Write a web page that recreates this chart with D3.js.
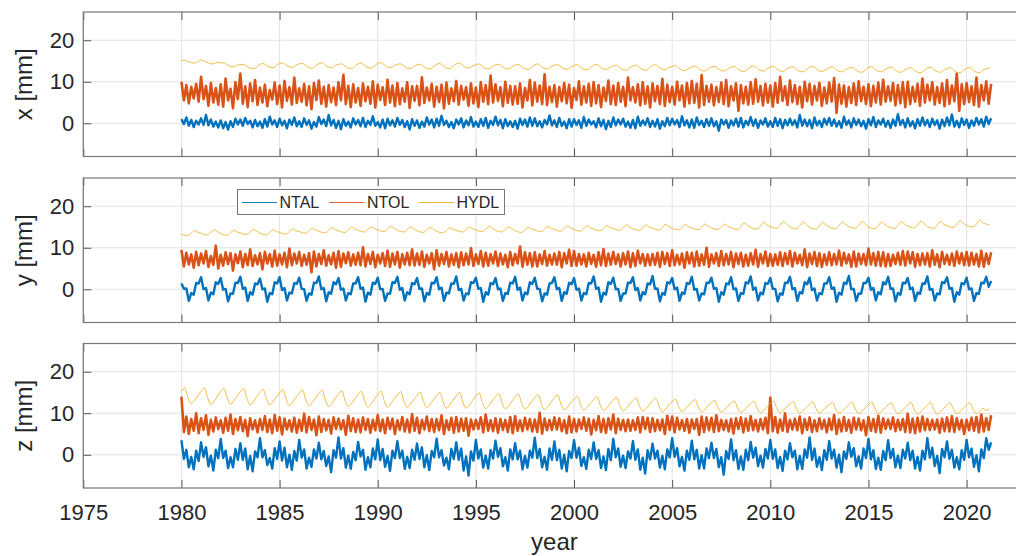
<!DOCTYPE html>
<html>
<head>
<meta charset="utf-8">
<script src="https://cdn.jsdelivr.net/npm/d3@7"></script>
<style>
body { margin: 0; background: #fff; }
text { font-family: "Liberation Sans", Arial, Helvetica, sans-serif; fill: #262626; }
</style>
</head>
<body>
<script>
// all values in tenths of mm
// noisy series (NTAL, NTOL): 8 samples per year from 1980.0
// HYDL: 6 samples per year from 1980.0
var startYear = 1980;
var seriesNames = ["NTAL", "NTOL", "HYDL"];
var seriesColors = ["#0072BD", "#D95319", "#EDB120"];
var panelLabels = ["x [mm]", "y [mm]", "z [mm]"];
var xTicks = [1975, 1980, 1985, 1990, 1995, 2000, 2005, 2010, 2015, 2020];
var yTicks = [0, 10, 20];

var ntalX = [
10,-2,14,-6,8,-9,6,-3, 12,-4,20,-5,9,-8,4,-10, 7,-12,3,-15,5,-9,11,-3, 9,-6,13,-2,6,-10,8,-7,
4,-11,10,-8,16,-3,7,-9, 11,-5,6,-12,9,-4,14,-7, 5,-9,12,-4,7,-13,3,-8, 15,-2,9,-7,20,-5,8,-11,
6,-14,10,-6,4,-10,12,-3, 8,-7,13,-9,6,-4,17,-6, 3,-10,9,-12,11,-5,7,-8, 13,-4,8,-9,5,-15,10,-6,
7,-11,4,-8,14,-3,9,-10, 11,-6,18,-4,6,-9,3,-12, 9,-3,12,-10,7,-5,15,-8, 4,-9,10,-6,13,-11,6,-4,
16,-5,8,-12,10,-7,5,-9, 6,-13,11,-4,9,-8,14,-6, 12,-7,5,-10,8,-3,19,-5, 7,-9,13,-6,4,-12,10,-8,
10,-4,7,-11,15,-6,9,-3, 5,-10,12,-7,8,-14,6,-9, 14,-5,9,-3,11,-8,4,-11, 8,-12,16,-6,7,-4,12,-9,
6,-8,10,-13,5,-7,13,-5, 11,-3,8,-9,17,-5,7,-10, 9,-11,14,-4,6,-9,10,-6, 12,-7,5,-18,9,-3,8,-11,
7,-5,11,-8,13,-10,6,-4, 15,-6,9,-11,7,-3,12,-8, 5,-9,13,-6,10,-12,8,-5, 11,-4,7,-10,20,-6,9,-7,
8,-12,14,-5,6,-9,11,-3, 13,-6,9,-8,5,-11,16,-4, 7,-10,12,-4,9,-7,6,-13, 10,-5,15,-9,7,-3,11,-8,
6,-11,9,-6,22,-4,8,-10, 12,-7,5,-12,10,-6,14,-5, 8,-9,11,-4,7,-13,9,-7, 14,-5,21,-8,6,-10,12,-4,
9,-11,7,-6,13,-3,10,-8, 16,-2,12
];
var ntolX = [
100,55,92,48,88,60,95,52, 112,58,90,42,97,50,85,45, 94,40,108,55,83,36,99,58, 120,47,89,39,96,53,104,44,
86,50,93,41,80,57,98,46, 91,38,102,54,87,45,110,49, 84,52,95,43,89,34,97,56, 103,47,88,40,92,51,86,44,
99,55,117,46,90,39,94,50, 85,42,96,53,88,47,101,38, 93,56,87,44,105,50,91,41, 97,46,84,52,99,37,89,54,
90,43,111,49,86,55,95,40, 88,51,93,36,98,47,84,53, 102,45,90,57,87,42,96,48, 86,39,99,52,92,46,115,50,
94,54,87,41,100,49,90,45, 89,47,96,38,85,55,104,43, 98,52,91,46,118,44,88,51, 92,40,87,53,97,48,93,37,
85,56,101,45,89,50,95,42, 99,48,92,39,86,54,103,46, 91,44,97,52,88,41,110,55, 87,50,94,43,99,47,89,38,
96,53,90,46,107,42,93,51, 88,45,100,55,91,40,97,48, 102,49,95,38,116,44,90,52, 93,43,87,51,98,46,104,41,
89,55,96,30,92,48,88,45, 99,47,106,52,90,43,95,50, 91,40,97,49,112,54,89,44, 103,51,92,46,88,38,100,53,
95,45,90,55,97,42,86,48, 98,52,109,25,93,47,91,40, 87,49,96,44,101,53,88,46, 94,41,90,50,98,45,105,52,
89,54,97,43,92,48,99,39, 100,46,88,52,95,42,108,50, 93,55,99,45,87,49,96,41, 104,47,91,53,120,30,94,46,
97,51,89,44,110,40,92,55, 101,47,95
];
var hydlX = [
150,152,149,146,145,149, 153,150,146,143,144,147, 145,146,141,137,136,140, 141,142,137,133,131,135,
142,144,139,135,134,139, 144,145,140,136,135,140, 143,144,139,134,133,138, 144,146,140,135,134,139,
142,143,138,133,132,137, 143,145,139,134,133,138, 144,146,141,135,134,139, 142,143,138,133,132,137,
141,142,137,132,131,136, 142,144,138,133,132,137, 143,145,139,134,133,138, 141,143,137,132,131,136,
141,142,137,132,131,136, 140,142,136,131,130,135, 141,143,137,132,131,136, 140,141,136,131,130,135,
139,141,135,130,129,134, 140,142,136,131,130,135, 138,140,134,129,128,133, 138,140,134,129,128,133,
139,141,135,130,129,134, 137,139,133,128,127,132, 136,138,132,127,126,131, 136,137,132,127,126,131,
135,137,131,126,125,130, 136,138,132,127,126,131, 135,137,131,126,125,130, 134,136,130,125,124,129,
135,137,131,126,125,130, 134,136,130,125,124,129, 133,135,129,124,123,128, 134,136,130,125,124,129,
133,135,129,124,123,128, 132,134,128,123,122,127, 133,135,129,124,123,128, 132,134,128,123,122,127,
132,134,128,123,122,128, 131,134
];

var ntalY = [
14,1,2,-28,-9,-13,15,14, 29,0,3,-27,-8,-12,17,13, 27,-1,1,-29,-10,-11,16,15, 30,1,4,-28,-7,-13,14,12,
26,0,2,-30,-9,-12,17,14, 29,-2,3,-27,-8,-10,15,13, 28,1,0,-28,-10,-13,16,15, 31,0,3,-29,-7,-11,17,12,
27,-1,2,-27,-9,-12,14,14, 29,1,4,-30,-8,-13,16,13, 28,0,1,-28,-10,-11,17,15, 30,-1,3,-27,-7,-12,15,12,
27,1,2,-29,-9,-13,16,14, 29,0,4,-28,-8,-10,14,13, 31,-2,1,-27,-10,-12,17,15, 28,1,3,-30,-7,-13,15,12,
27,0,2,-28,-9,-11,16,14, 30,-1,4,-27,-8,-12,17,13, 28,1,1,-29,-10,-13,14,15, 29,0,3,-28,-7,-11,16,12,
27,-1,2,-27,-9,-12,15,14, 31,1,4,-30,-8,-13,17,13, 28,0,1,-28,-10,-10,16,15, 29,-2,3,-27,-7,-12,14,12,
32,1,2,-29,-9,-13,17,14, 27,0,4,-28,-8,-11,15,13, 30,-1,1,-27,-10,-12,16,15, 28,1,3,-30,-7,-13,14,12,
29,0,2,-28,-9,-11,17,14, 31,-1,4,-27,-8,-12,15,13, 27,1,1,-29,-10,-13,16,15, 30,0,3,-28,-7,-10,17,12,
28,-2,2,-27,-9,-12,14,14, 29,1,4,-30,-8,-13,16,13, 32,0,1,-28,-10,-11,15,15, 28,-1,3,-27,-7,-12,17,12,
30,1,2,-29,-9,-13,16,14, 27,0,4,-28,-8,-11,14,13, 31,-1,1,-27,-10,-12,17,15, 29,1,3,-30,-7,-13,15,12,
28,0,2,-28,-9,-11,16,14, 30,6,20
];
var ntolY = [
95,55,88,60,84,52,90,58, 86,62,92,54,80,59,105,50, 83,57,89,61,87,45,84,63, 91,53,85,58,96,56,82,60,
87,48,90,62,85,55,93,57, 84,60,88,53,98,58,86,62, 90,56,83,59,87,41,91,55, 85,61,94,57,82,60,88,52,
92,54,86,63,89,57,84,59, 88,58,101,55,85,61,90,53, 83,62,87,56,93,54,86,60, 90,52,84,60,88,58,96,57,
86,59,91,54,83,62,87,48, 94,57,85,61,90,55,84,59, 87,53,89,58,86,60,99,56, 84,61,92,55,88,57,85,62,
91,56,86,60,83,53,90,58, 85,62,103,54,89,59,87,55, 89,55,84,61,92,57,83,60, 86,59,90,53,87,62,95,56,
92,57,85,60,84,55,88,61, 83,54,89,58,97,56,86,59, 90,61,84,55,87,60,91,53, 87,56,93,62,85,57,84,58,
85,59,88,54,90,61,87,56, 94,58,83,60,86,52,89,62, 88,55,91,57,84,59,100,54, 84,62,87,56,92,58,85,60,
90,53,86,61,88,55,83,57, 87,60,95,54,85,62,91,56, 85,57,84,59,89,56,87,61, 92,55,88,62,83,58,96,53,
86,61,90,56,87,54,84,59, 89,58,85,60,93,57,88,62, 84,54,91,55,86,61,85,58, 98,60,87,57,90,56,89,55,
85,56,83,61,88,59,92,57, 91,62,89,54,85,58,86,60, 87,55,94,59,84,53,90,61, 83,59,86,56,91,62,87,58,
90,57,88,60,85,55,93,54, 86,61,89
];
var hydlY = [
132,130,129,135,141,137, 135,132,131,137,143,139, 134,131,130,136,142,138, 136,133,132,138,144,140,
135,132,131,137,143,139, 137,134,133,139,145,141, 139,136,135,141,147,143, 140,137,136,142,149,144,
141,138,137,143,150,145, 142,139,138,144,150,146, 143,140,139,145,151,147, 142,139,138,144,150,146,
141,138,137,143,149,145, 140,137,136,142,148,144, 142,139,138,144,150,146, 143,140,139,145,151,147,
142,139,138,144,150,146, 141,138,137,143,149,145, 143,140,139,145,151,147, 144,141,140,146,152,148,
144,141,140,146,153,148, 145,142,141,147,154,149, 146,143,142,148,155,150, 146,143,142,148,155,150,
147,144,143,149,156,151, 147,144,143,149,156,151, 148,145,144,150,157,152, 148,145,144,150,157,152,
148,145,144,151,160,154, 149,146,145,152,161,155, 151,148,147,154,163,157, 150,147,146,153,162,156,
149,146,145,152,161,155, 150,147,146,153,162,156, 151,148,147,154,163,157, 150,147,146,153,162,156,
151,148,147,154,163,157, 152,149,148,155,164,158, 151,148,147,154,163,157, 153,150,149,156,165,159,
154,151,150,157,167,160, 157,154
];

var ntalZ = [
35,-10,12,-30,-5,-35,10,-15, 30,-5,18,-28,-2,-38,12,-8, 38,-8,10,-32,-6,-30,14,-12, 28,-12,15,-35,-3,-40,8,-6,
40,-6,11,-25,-8,-33,16,-10, 32,-14,17,-30,0,-36,9,-14, 36,-7,13,-33,-7,-29,13,-9, 29,-11,9,-27,-4,-42,11,-7,
42,-9,16,-31,-2,-34,7,-13, 31,-4,12,-36,-6,-30,15,-11, 37,-13,14,-29,-3,-39,10,-8, 33,-8,10,-34,-5,-32,12,-12,
27,-10,18,-30,-1,-37,9,-6, 39,-6,11,-26,-7,-35,14,-10, 30,-12,15,-38,-4,-50,8,-14, 36,-9,13,-31,-2,-33,11,-9,
34,-5,16,-28,-6,-38,13,-11, 28,-11,10,-35,-3,-31,10,-7, 41,-8,14,-30,-5,-36,15,-12, 32,-13,12,-33,0,-40,9,-8,
35,-7,17,-27,-6,-34,12,-10, 30,-10,11,-32,-4,-37,14,-13, 38,-6,15,-29,-2,-32,8,-9, 33,-12,13,-36,-7,-45,11,-11,
27,-9,10,-31,-3,-35,13,-6, 40,-5,16,-28,-5,-38,10,-12, 34,-11,12,-33,-1,-33,15,-8, 29,-8,14,-30,-6,-48,9,-10,
37,-13,11,-34,-4,-36,12,-13, 31,-7,17,-27,-2,-31,14,-9, 36,-10,13,-32,-5,-39,10,-11, 28,-6,10,-35,-3,-34,13,-7,
42,-12,15,-29,-6,-37,11,-12, 33,-9,12,-31,0,-42,8,-10, 30,-5,16,-28,-4,-33,15,-8, 38,-11,11,-34,-7,-36,9,-13,
35,-8,14,-30,-2,-32,12,-9, 29,-13,10,-33,-5,-38,10,-11, 40,-7,17,-27,-3,-44,14,-6, 32,-10,12,-31,-6,-35,11,-12,
36,-6,15,-29,-1,-40,13,-8, 40,12,30
];
var ntolZ = [
140,55,92,50,86,58,100,52, 88,60,95,48,84,56,90,62, 83,53,89,58,97,50,86,59, 91,57,84,45,88,61,83,54,
86,60,93,55,85,52,96,58, 90,49,87,61,83,56,89,53, 84,58,99,54,91,60,85,47, 92,55,86,59,84,51,90,62,
87,61,83,48,94,57,88,55, 85,54,90,60,86,53,84,59, 96,57,85,52,89,62,87,50, 83,60,91,56,85,54,98,58,
89,52,84,61,92,57,86,55, 86,59,95,50,83,60,89,53, 91,56,87,58,88,46,85,61, 84,62,90,54,97,58,83,57,
88,53,86,60,84,55,91,52, 93,58,83,57,89,61,86,56, 85,55,101,51,87,59,84,60, 90,61,88,57,83,52,92,54,
86,56,85,62,90,58,87,49, 84,59,93,55,86,53,88,61, 97,52,87,60,84,57,85,58, 83,60,90,54,91,62,89,55,
88,57,84,59,85,50,94,60, 92,54,89,61,83,58,86,53, 85,62,86,48,92,55,90,59, 89,55,95,57,84,60,83,56,
86,51,88,62,90,54,87,58, 93,59,84,56,86,61,89,52, 138,57,91,53,85,58,100,55, 84,61,87,59,92,52,86,60,
90,55,83,57,88,62,84,54, 87,60,96,50,85,56,91,58, 84,53,89,61,87,59,83,47, 91,58,86,55,94,53,88,62,
85,62,90,57,84,60,86,55, 99,54,87,52,89,56,92,59, 86,60,84,61,85,53,87,57, 90,56,93,55,88,61,84,50,
84,59,89,58,91,54,97,56, 88,60,95
];
var hydlZ = [
153,161,138,123,131,142, 153,161,137,121,129,141, 152,160,137,122,130,141, 152,160,136,120,128,140,
150,158,135,120,128,139, 149,157,134,119,127,138, 148,156,133,118,126,137, 148,156,132,116,124,136,
146,154,131,116,124,135, 145,153,130,115,123,134, 145,153,130,115,123,134, 144,152,129,114,122,133,
143,151,128,113,121,132, 142,150,127,112,120,131, 142,150,127,112,120,131, 141,149,126,111,119,130,
140,147,125,111,118,129, 139,146,124,110,117,128, 138,145,123,109,116,127, 137,144,122,108,115,126,
134,141,121,107,114,124, 133,140,120,106,113,123, 132,139,119,105,112,122, 131,137,118,105,111,121,
130,136,117,104,110,120, 128,134,116,104,110,119, 127,133,115,103,109,118, 125,131,114,103,109,117,
124,130,113,102,108,116, 123,129,112,101,107,115, 123,129,112,101,107,115, 122,128,111,100,106,114,
122,128,111,100,106,114, 121,126,110,100,105,113, 121,127,110,99,105,113, 121,127,110,99,105,113,
120,125,109,99,104,112, 120,126,109,98,104,112, 120,126,109,98,104,112, 120,125,109,99,104,112,
120,125,109,99,104,112, 107,112
];

/* size and layout */
var w = 1016;
var h = 556;
var left = 83.3;
var right = 1025.5;          // axes run past the picture edge, like the original
var panelTop = [12, 178, 343.5];
var panelH = 144.5;
var tickLen = 8;

var panels = [
    { label: panelLabels[0], series: [ntalX, ntolX, hydlX] },
    { label: panelLabels[1], series: [ntalY, ntolY, hydlY] },
    { label: panelLabels[2], series: [ntalZ, ntolZ, hydlZ] }
];
var perYear = [8, 8, 6];         // samples per year for NTAL, NTOL, HYDL
var lineWidth = [2.4, 2.6, 0.85]; // dense noisy records drawn heavier so they read as a band

var xScale = d3.scaleLinear()
    .domain([1975, 2023])
    .range([left, right]);

var svg = d3.select("body")
    .append("svg")
    .attr("width", w)
    .attr("height", h);

panels.forEach(function(p, k) {
    var top = panelTop[k];
    var yScale = d3.scaleLinear()
        .domain([-8, 26.8])
        .range([top + panelH, top]);

    var g = svg.append("g");

    // grid
    g.selectAll(".gx").data(xTicks).enter().append("line")
        .attr("x1", function(d) { return xScale(d); })
        .attr("x2", function(d) { return xScale(d); })
        .attr("y1", top).attr("y2", top + panelH)
        .attr("stroke", "#e3e3e3").attr("stroke-width", 1);
    g.selectAll(".gy").data(yTicks).enter().append("line")
        .attr("x1", left).attr("x2", right)
        .attr("y1", function(d) { return yScale(d); })
        .attr("y2", function(d) { return yScale(d); })
        .attr("stroke", "#e3e3e3").attr("stroke-width", 1);

    // data lines
    p.series.forEach(function(values, s) {
        var line = d3.line()
            .x(function(d, i) { return xScale(startYear + i / perYear[s]); })
            .y(function(d) { return yScale(d / 10); });
        if (s === 2) line.curve(d3.curveMonotoneX);
        g.append("path")
            .datum(values)
            .attr("fill", "none")
            .attr("stroke", seriesColors[s])
            .attr("stroke-width", lineWidth[s])
            .attr("stroke-linejoin", "round")
            .attr("d", line);
    });

    // axes, ticks pointing inward
    var yAxis = d3.axisLeft(yScale).tickValues(yTicks).tickSize(-tickLen).tickPadding(9);
    var xAxisB = d3.axisBottom(xScale).tickValues(xTicks).tickSize(-tickLen).tickPadding(16)
        .tickFormat(k === 2 ? d3.format("d") : function() { return ""; });
    var xAxisT = d3.axisTop(xScale).tickValues(xTicks).tickSize(-tickLen).tickFormat(function() { return ""; });

    var ga = g.append("g").attr("transform", "translate(" + left + ",0)").call(yAxis);
    var gb = g.append("g").attr("transform", "translate(0," + (top + panelH) + ")").call(xAxisB);
    var gt = g.append("g").attr("transform", "translate(0," + top + ")").call(xAxisT);
    [ga, gb, gt].forEach(function(a) {
        a.select(".domain").remove();
        a.selectAll(".tick line").attr("stroke", "#555");
        a.selectAll("text").style("font-size", "22px").attr("fill", "#262626");
    });

    // axes box
    g.append("rect")
        .attr("x", left).attr("y", top)
        .attr("width", right - left).attr("height", panelH)
        .attr("fill", "none").attr("stroke", "#777").attr("stroke-width", 1.2);

    // y label
    g.append("text")
        .attr("transform", "translate(32," + (top + panelH / 2) + ") rotate(-90)")
        .attr("text-anchor", "middle")
        .style("font-size", "24px")
        .text(p.label);
});

// x label
svg.append("text")
    .attr("x", (left + right) / 2)
    .attr("y", 550)
    .attr("text-anchor", "middle")
    .style("font-size", "24px")
    .text("year");

// legend in the middle panel
var lg = svg.append("g");
lg.append("rect")
    .attr("x", 237.5).attr("y", 189.5)
    .attr("width", 267).attr("height", 25)
    .attr("fill", "#fff").attr("stroke", "#777").attr("stroke-width", 1);
var legendX = [242, 329.5, 419];
seriesNames.forEach(function(name, s) {
    lg.append("line")
        .attr("x1", legendX[s]).attr("x2", legendX[s] + 35)
        .attr("y1", 202.5).attr("y2", 202.5)
        .attr("stroke", seriesColors[s]).attr("stroke-width", 0.9);
    lg.append("text")
        .attr("x", legendX[s] + 37.5)
        .attr("y", 208)
        .style("font-size", "16px")
        .text(name);
});
</script>
</body>
</html>
